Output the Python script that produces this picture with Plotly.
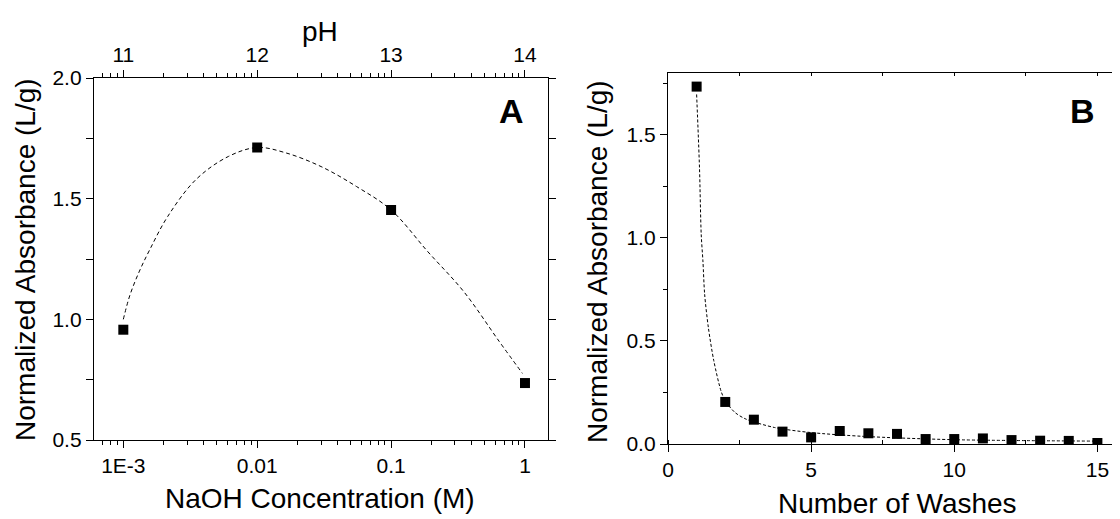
import plotly.graph_objects as go

# ---- panel A: absorbance vs NaOH concentration ----
naoh_conc = [0.001, 0.01, 0.1, 1.0]
ph_values = [11, 12, 13, 14]
absorb_a = [0.957, 1.712, 1.453, 0.736]

# dashed guide curve
curve_a_conc = [0.001, 0.00112, 0.00132, 0.00158, 0.00215, 0.0035, 0.0061, 0.01,
                0.0163, 0.030, 0.0553, 0.1, 0.189, 0.35, 0.643, 0.957]
curve_a_abs = [1.0, 1.10, 1.20, 1.29, 1.427, 1.58, 1.675, 1.712,
               1.69, 1.633, 1.55, 1.453, 1.279, 1.114, 0.908, 0.776]

conc_ticks = [0.001, 0.01, 0.1, 1]
conc_labels = ["1E-3", "0.01", "0.1", "1"]

# ---- panel B: absorbance vs number of washes ----
washes = list(range(1, 16))
absorb_b = [1.734, 0.204, 0.118, 0.060, 0.032, 0.063, 0.052, 0.049,
            0.024, 0.024, 0.027, 0.019, 0.016, 0.015, 0.005]

curve_b_x = [1.0, 1.10, 1.16, 1.22, 1.28, 1.41, 1.60, 1.85, 2.0, 2.34, 2.72,
             3.72, 4.96, 6.83, 9.95, 14.94]
curve_b_y = [1.696, 1.34, 1.017, 0.888, 0.727, 0.565, 0.404, 0.258, 0.209, 0.153, 0.121,
             0.080, 0.056, 0.037, 0.021, 0.014]

FONT = "Arial, Liberation Sans, sans-serif"
INK = "#000000"
OFF = 8                      # page body margin in the browser
W, H = 1120 - OFF, 519 - OFF

fig = go.Figure()

fig.add_trace(go.Scatter(
    x=curve_a_conc, y=curve_a_abs, mode="lines", xaxis="x", yaxis="y",
    line=dict(color=INK, width=1, dash="4px,3px", shape="spline", smoothing=1.0),
    hoverinfo="skip", showlegend=False,
))
fig.add_trace(go.Scatter(
    x=naoh_conc, y=absorb_a, mode="markers", xaxis="x", yaxis="y",
    marker=dict(symbol="square", size=10, color=INK), showlegend=False,
))
# same points against the pH scale (keeps the top axis alive)
fig.add_trace(go.Scatter(
    x=ph_values, y=absorb_a, mode="markers", xaxis="x2", yaxis="y",
    marker=dict(symbol="square", size=10, color=INK, opacity=0),
    hoverinfo="skip", showlegend=False,
))
fig.add_trace(go.Scatter(
    x=curve_b_x, y=curve_b_y, mode="lines", xaxis="x3", yaxis="y3",
    line=dict(color=INK, width=1, dash="3px,2px", shape="spline", smoothing=0.8),
    hoverinfo="skip", showlegend=False,
))
fig.add_trace(go.Scatter(
    x=washes, y=absorb_b, mode="markers", xaxis="x3", yaxis="y3",
    marker=dict(symbol="square", size=10, color=INK), showlegend=False,
))
fig.add_trace(go.Scatter(
    x=washes, y=absorb_b, mode="markers", xaxis="x4", yaxis="y3",
    marker=dict(opacity=0), hoverinfo="skip", showlegend=False,
))

# screenshot pixel geometry -> paper fractions
a_left, a_right, a_top, a_bot = 94, 548, 78, 440
b_left, b_top, b_bot = 668, 73, 444


def px(v):
    return (v - OFF) / W


def py(v):
    return (H - (v - OFF)) / H


axis_common = dict(showline=True, linecolor=INK, linewidth=1.3, showgrid=False,
                   zeroline=False, tickcolor=INK, tickwidth=1.3, automargin=False,
                   tickfont=dict(family=FONT, size=21, color=INK))

fig.update_layout(
    template="none",
    width=W, height=H,
    margin=dict(l=0, r=0, t=0, b=0, autoexpand=False),
    plot_bgcolor="#FFFFFF", paper_bgcolor="#FFFFFF",
    font=dict(family=FONT, color=INK),
    xaxis=dict(
        **axis_common, type="log", domain=[px(a_left), px(a_right)],
        range=[-3.219, 0.172], anchor="y", mirror="allticks",
        ticks="outside", ticklen=7, tickmode="array",
        tickvals=conc_ticks, ticktext=conc_labels,
        minor=dict(ticks="outside", ticklen=4, dtick="D1", tickcolor=INK, tickwidth=1.2),
    ),
    xaxis2=dict(
        overlaying="x", side="top", anchor="y", range=[10.781, 14.172],
        showline=False, showgrid=False, zeroline=False, ticks="outside", ticklen=7,
        tickcolor=INK, tickwidth=1.3, tickmode="array", tickvals=ph_values,
        automargin=False, tickfont=dict(family=FONT, size=21, color=INK),
    ),
    yaxis=dict(
        **axis_common, domain=[py(a_bot), py(a_top)], range=[0.5, 2.0],
        anchor="x", mirror="allticks", ticks="outside", ticklen=7,
        dtick=0.5, tick0=0.5, tickformat=".1f",
        minor=dict(ticks="outside", ticklen=4, dtick=0.25, tickcolor=INK, tickwidth=1.2),
    ),
    xaxis3=dict(
        **axis_common, domain=[px(b_left), 1.0], range=[0, 15.79], anchor="y3",
        mirror=True, ticks="outside", ticklen=7, dtick=5, tick0=0,
        minor=dict(ticks="inside", ticklen=4, dtick=2.5, tickcolor=INK, tickwidth=1.2),
    ),
    xaxis4=dict(
        overlaying="x3", side="top", anchor="y3", range=[0, 15.79],
        showline=False, showgrid=False, zeroline=False, ticks="inside", ticklen=3,
        tickcolor=INK, tickwidth=1.2, dtick=2.5, tick0=0, showticklabels=False,
        automargin=False,
    ),
    yaxis3=dict(
        **axis_common, domain=[py(b_bot), py(b_top)], range=[0, 1.8],
        anchor="x3", ticks="outside", ticklen=7, dtick=0.5, tick0=0, tickformat=".1f",
        minor=dict(ticks="outside", ticklen=4, dtick=0.25, tickcolor=INK, tickwidth=1.2),
    ),
)

title_font = dict(family=FONT, size=28, color=INK)
ann = [
    dict(text="pH", x=px(320), y=py(31)),
    dict(text="NaOH Concentration (M)", x=px(320), y=py(498)),
    dict(text="Number of Washes", x=px(897), y=py(503)),
    dict(text="Normalized Absorbance (L/g)", x=px(25), y=py(260), textangle=-90),
    dict(text="Normalized Absorbance (L/g)", x=px(597), y=py(262), textangle=-90),
]
for a in ann:
    fig.add_annotation(xref="paper", yref="paper", showarrow=False,
                       xanchor="center", yanchor="middle", font=title_font, **a)

for label, xc in (("A", 511), ("B", 1082)):
    fig.add_annotation(text=f"<b>{label}</b>", xref="paper", yref="paper",
                       x=px(xc), y=py(111), showarrow=False,
                       xanchor="center", yanchor="middle",
                       font=dict(family=FONT, size=34, color=INK))

fig.write_html("out.html")
